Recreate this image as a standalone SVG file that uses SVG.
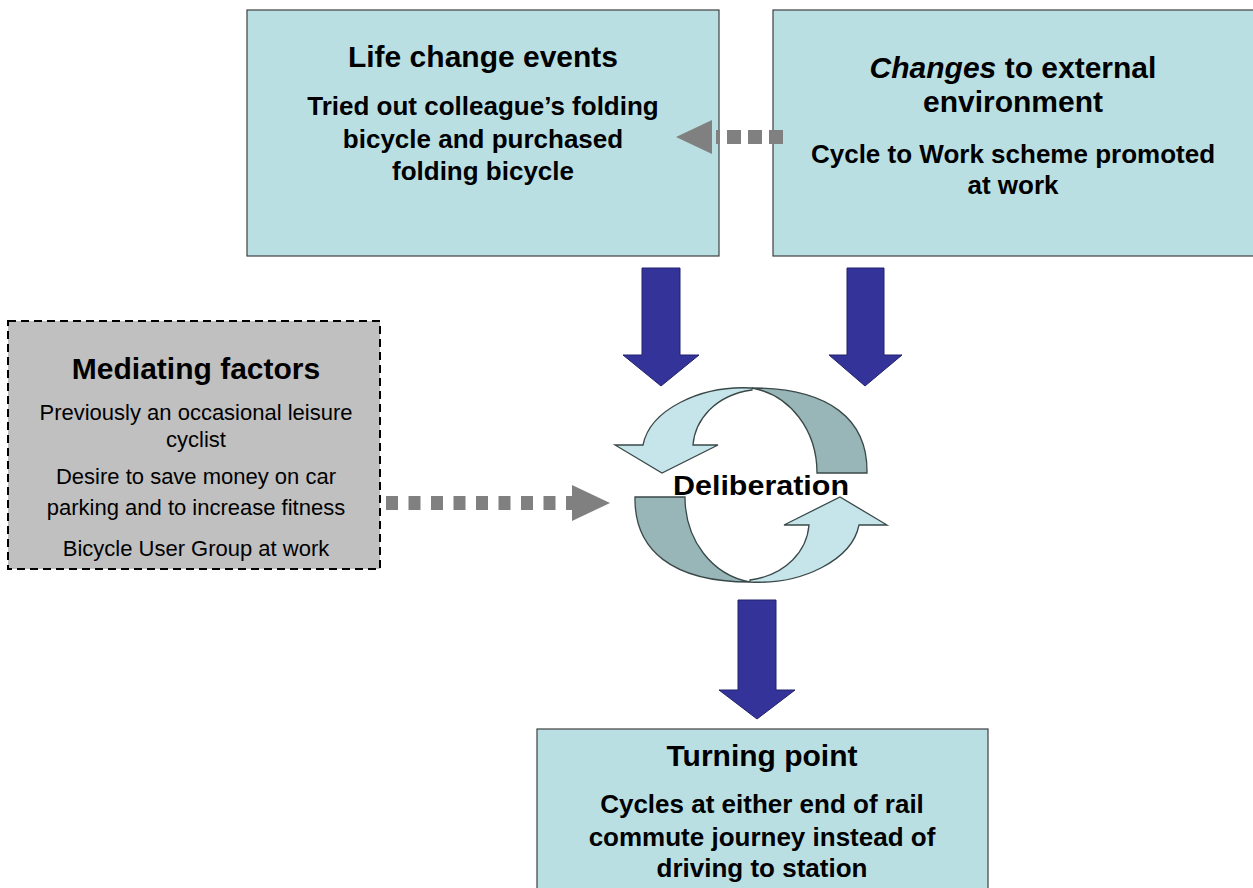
<svg xmlns="http://www.w3.org/2000/svg" width="1253" height="888" viewBox="0 0 1253 888">
<style>
text{font-family:"Liberation Sans",Arial,sans-serif;fill:#000;text-anchor:middle}
.title{font-size:30px;font-weight:bold}
.body{font-size:26px;font-weight:bold}
.reg{font-size:22px}
.teal{fill:#b9dfe3;stroke:#404040;stroke-width:1.2}
.blue{fill:#333399;stroke:#22226e;stroke-width:1}
.dots{stroke:#808080;stroke-width:14;fill:none}
.ghead{fill:#808080}
.light{fill:#c6e5ea;stroke:#3a4848;stroke-width:1.3}
.dark{fill:#98b5b8;stroke:#3a4848;stroke-width:1.3}
</style>
<rect width="1253" height="888" fill="#fff"/>

<g id="life-change-events">
<rect class="teal" x="247" y="10" width="472" height="246"/>
<text class="title" x="483" y="67">Life change events</text>
<text class="body" x="483" y="115">Tried out colleague’s folding</text>
<text class="body" x="483" y="148">bicycle and purchased</text>
<text class="body" x="483" y="180">folding bicycle</text>
</g>

<g id="external-environment">
<rect class="teal" x="773" y="10" width="490" height="246"/>
<text class="title" x="1013" y="78"><tspan font-style="italic">Changes</tspan> to external</text>
<text class="title" x="1013" y="112">environment</text>
<text class="body" x="1013" y="163">Cycle to Work scheme promoted</text>
<text class="body" x="1013" y="194">at work</text>
</g>

<g id="mediating-factors">
<rect x="8" y="321" width="372" height="248" fill="#c0c0c0" stroke="#000" stroke-width="2" stroke-dasharray="8 5"/>
<text class="title" x="196" y="379">Mediating factors</text>
<text class="reg" x="196" y="420">Previously an occasional leisure</text>
<text class="reg" x="196" y="447">cyclist</text>
<text class="reg" x="196" y="484">Desire to save money on car</text>
<text class="reg" x="196" y="515">parking and to increase fitness</text>
<text class="reg" x="196" y="556">Bicycle User Group at work</text>
</g>

<g id="deliberation">
<g id="cycle-top">
<path class="dark" d="M867 473 C868 420 830 388 752 388 C790 395 817 430 817 473 Z"/>
<path class="light" d="M752 388 C700 385 650 410 643 445 L615 445 L662 473 L718 445 L693 445 C695 420 715 395 752 390 Z"/>
</g>
<g id="cycle-bottom" transform="rotate(180 751 485)">
<path class="dark" d="M867 473 C868 420 830 388 752 388 C790 395 817 430 817 473 Z"/>
<path class="light" d="M752 388 C700 385 650 410 643 445 L615 445 L662 473 L718 445 L693 445 C695 420 715 395 752 390 Z"/>
</g>
<text x="761" y="495" font-size="28" font-weight="bold" textLength="176" lengthAdjust="spacingAndGlyphs">Deliberation</text>
</g>

<g id="turning-point">
<rect class="teal" x="537" y="729" width="451" height="170"/>
<text class="title" x="762" y="766">Turning point</text>
<text class="body" x="762" y="813" font-size="25">Cycles at either end of rail</text>
<text class="body" x="762" y="846" font-size="25">commute journey instead of</text>
<text class="body" x="762" y="877" font-size="25">driving to station</text>
</g>

<g id="connectors">
<path class="blue" d="M642 268 H680 V355 H699 L661 386 L623 355 H642 Z"/>
<path class="blue" d="M847 268 H884 V355 H902 L865 386 L829 355 H847 Z"/>
<path class="blue" d="M738 600 H776 V690 H795 L757 719 L719 690 H738 Z"/>
<line class="dots" x1="783" y1="137" x2="716" y2="137" stroke-dasharray="14 7"/>
<polygon class="ghead" points="712,120 676,137 712,154"/>
<line class="dots" x1="386" y1="503" x2="572" y2="503" stroke-dasharray="12 10.5"/>
<polygon class="ghead" points="572,485 610,503 572,521"/>
</g>
</svg>
